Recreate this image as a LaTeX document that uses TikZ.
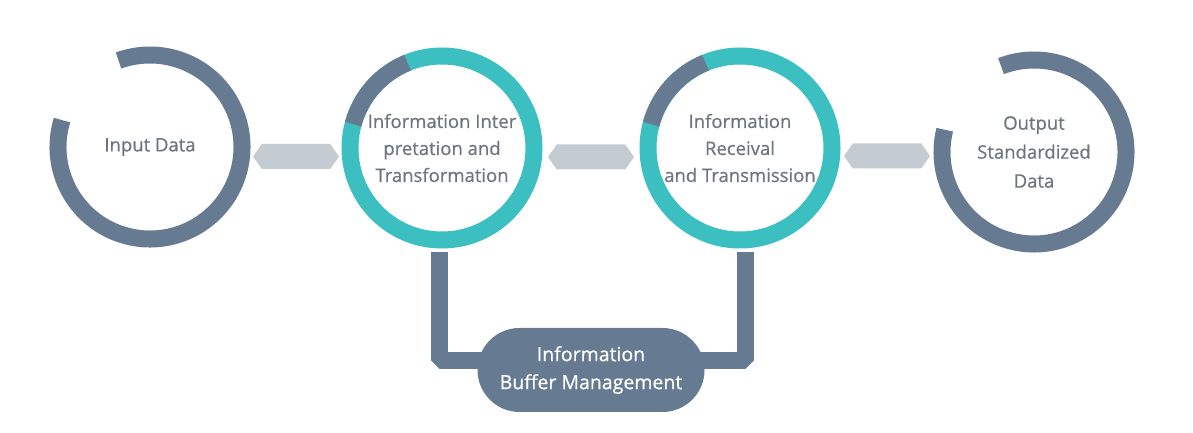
\documentclass[tikz,border=0pt]{standalone}
\usepackage{fontspec}
\setmainfont{Open Sans}
\newfontfamily\labelfont{Open Sans}[FakeBold=0.6]
\usetikzlibrary{calc,shapes.arrows,backgrounds}
\definecolor{slate}{HTML}{667B91}
\definecolor{teal2}{HTML}{3CBFC0}
\definecolor{hexgray}{HTML}{C5CBD2}
\definecolor{txtgray}{HTML}{6E757F}
\tikzset{
  stage/.style={circle, minimum size=202pt, inner sep=0pt, align=center,
    text=txtgray, font=\labelfont\fontsize{18.5}{27}\selectfont},
  ring/.style={line width=17pt, draw=slate},
  tealring/.style={line width=17pt, draw=teal2},
  hexconn/.style={double arrow, double arrow head extend=0pt,
    double arrow tip angle=110, minimum height=86pt, minimum width=25pt,
    inner sep=0pt, fill=hexgray, draw=none},
  bar/.style={line width=17pt, draw=slate, line join=bevel},
  pillbox/.style={rectangle, rounded corners=42pt, fill=slate,
    minimum width=227pt, minimum height=84pt, text=white, align=center,
    font=\labelfont\fontsize{19.5}{28}\selectfont}
}
\begin{document}
\begin{tikzpicture}[x=1pt,y=1pt]
\useasboundingbox (0,0) rectangle (1193,433);
% stage nodes
\node[stage] (c1) at (150,286) {Input Data};
\node[stage] (c2) at (442,285) {Information Inter\\pretation and\\Transformation};
\node[stage] (c3) at (740,285) {Information\\Receival\\and Transmission};
\node[stage, font=\labelfont\fontsize{18.5}{29}\selectfont] (c4) at (1034,281) {Output\\Standardized\\Data};
% rings
\begin{scope}[on background layer]
\draw[ring] ($(c1.center)+(163:92)$) arc[start angle=163, end angle=470, radius=92];
\draw[tealring] (c2.center) circle[radius=92];
\draw[ring] ($(c2.center)+(112:92)$) arc[start angle=112, end angle=165, radius=92];
\draw[tealring] (c3.center) circle[radius=92];
\draw[ring] ($(c3.center)+(112:92)$) arc[start angle=112, end angle=165, radius=92];
\draw[ring] ($(c4.center)+(166:92)$) arc[start angle=166, end angle=471, radius=92];
\end{scope}
% hexagonal connectors
\node[hexconn] (h1) at ($(c1.east)!0.5!(c2.west)+(0,-9)$) {};
\node[hexconn] (h2) at ($(c2.east)!0.5!(c3.west)+(0,-9)$) {};
\node[hexconn] (h3) at ($(c3.east)!0.5!(c4.west)+(0,-6)$) {};
% buffer pill
\coordinate (pc) at (591,63);
\coordinate (t2) at ($(c2.center)+(-3,-104)$);
\coordinate (t3) at ($(c3.center)+(5.5,-104)$);
\draw[bar] (t2) |- ($(pc)+(-80,9.5)$);
\draw[bar] (t3) |- ($(pc)+(80,9.5)$);
\node[pillbox] (pill) at (pc) {Information\\Buffer Management};
\end{tikzpicture}
\end{document}
